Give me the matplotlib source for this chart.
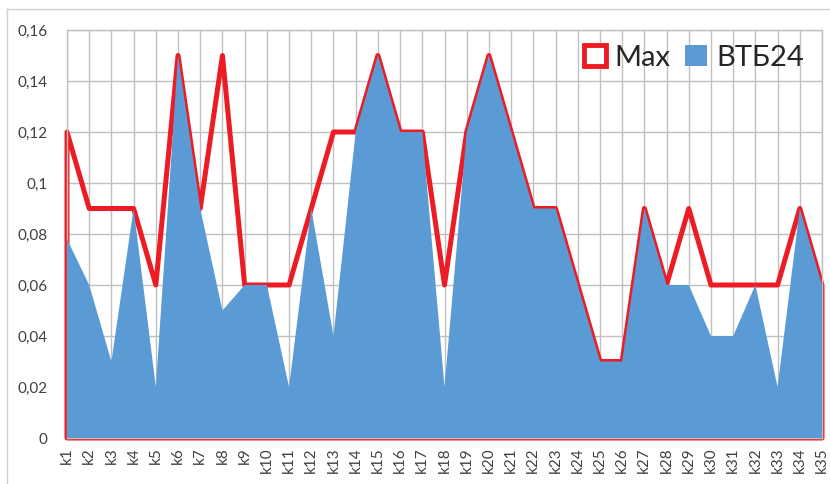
import matplotlib
matplotlib.use("Agg")
import matplotlib.pyplot as plt
from matplotlib.patches import Patch
from matplotlib.lines import Line2D
import numpy as np

plt.rcParams['font.family'] = ['Lato', 'DejaVu Sans']

categories = ["k%d" % i for i in range(1, 36)]
vtb24 = [0.078, 0.06, 0.03, 0.09, 0.02, 0.15, 0.09, 0.05, 0.06, 0.06,
         0.02, 0.09, 0.04, 0.12, 0.15, 0.12, 0.12, 0.02, 0.12, 0.15,
         0.12, 0.09, 0.09, 0.06, 0.03, 0.03, 0.09, 0.06, 0.06, 0.04,
         0.04, 0.06, 0.02, 0.09, 0.06]
max_vals = [0.12, 0.09, 0.09, 0.09, 0.06, 0.15, 0.09, 0.15, 0.06, 0.06,
            0.06, 0.09, 0.12, 0.12, 0.15, 0.12, 0.12, 0.06, 0.12, 0.15,
            0.12, 0.09, 0.09, 0.06, 0.03, 0.03, 0.09, 0.06, 0.09, 0.06,
            0.06, 0.06, 0.06, 0.09, 0.06]
yticks = [0, 0.02, 0.04, 0.06, 0.08, 0.1, 0.12, 0.14, 0.16]
ytick_labels = ["0", "0,02", "0,04", "0,06", "0,08", "0,1", "0,12", "0,14", "0,16"]

RED = "#ed1c24"
BLUE = "#5b9bd5"
GRID = "#c0c0c0"
TXT = "#404040"

fig = plt.figure(figsize=(8.3, 4.84), dpi=100)
# chart border
fig.add_artist(Line2D([7/830, 7/830], [0, 1 - 9/484], transform=fig.transFigure, color="#d0d0d0", lw=1))
fig.add_artist(Line2D([7/830, 1], [1 - 9/484, 1 - 9/484], transform=fig.transFigure, color="#d0d0d0", lw=1))

ax = fig.add_axes([67/830, 46/484, 755/830, 408/484])
x = np.arange(len(categories))

# Max series: area with red outline, no fill
px = np.concatenate([[x[0]], x, [x[-1]]])
py = np.concatenate([[0], max_vals, [0]])
ax.fill(px, py, facecolor="none", edgecolor=RED, linewidth=3.6, joinstyle="round",
        clip_on=False, zorder=2)
# VTB24 area on top
ax.fill_between(x, 0, vtb24, facecolor=BLUE, edgecolor="none", zorder=3)

ax.set_xlim(0, len(categories) - 1)
ax.set_ylim(0, 0.16)
ax.set_xticks(x)
ax.set_xticklabels(categories, rotation=90, fontsize=11, color=TXT)
ax.set_yticks(yticks)
ax.set_yticklabels(ytick_labels, fontsize=11, color=TXT)
ax.tick_params(axis="both", length=0)
ax.tick_params(axis="x", pad=7)
ax.tick_params(axis="y", pad=14)
ax.grid(True, color=GRID, linewidth=1)
ax.set_axisbelow(True)
for s in ax.spines.values():
    s.set_color(GRID)
    s.set_linewidth(1)

handles = [Patch(facecolor="white", edgecolor=RED, linewidth=3.5),
           Patch(facecolor=BLUE, edgecolor="none")]
leg = ax.legend(handles, ["Max", "ВТБ24"], loc="upper right", ncol=2, frameon=False,
                fontsize=21, handlelength=0.75, handleheight=0.75, handletextpad=0.3,
                columnspacing=0.5, bbox_to_anchor=(0.995, 1.0), borderaxespad=0.1)
for t in leg.get_texts():
    t.set_color("#262626")

fig.savefig("out.png", dpi=100)
